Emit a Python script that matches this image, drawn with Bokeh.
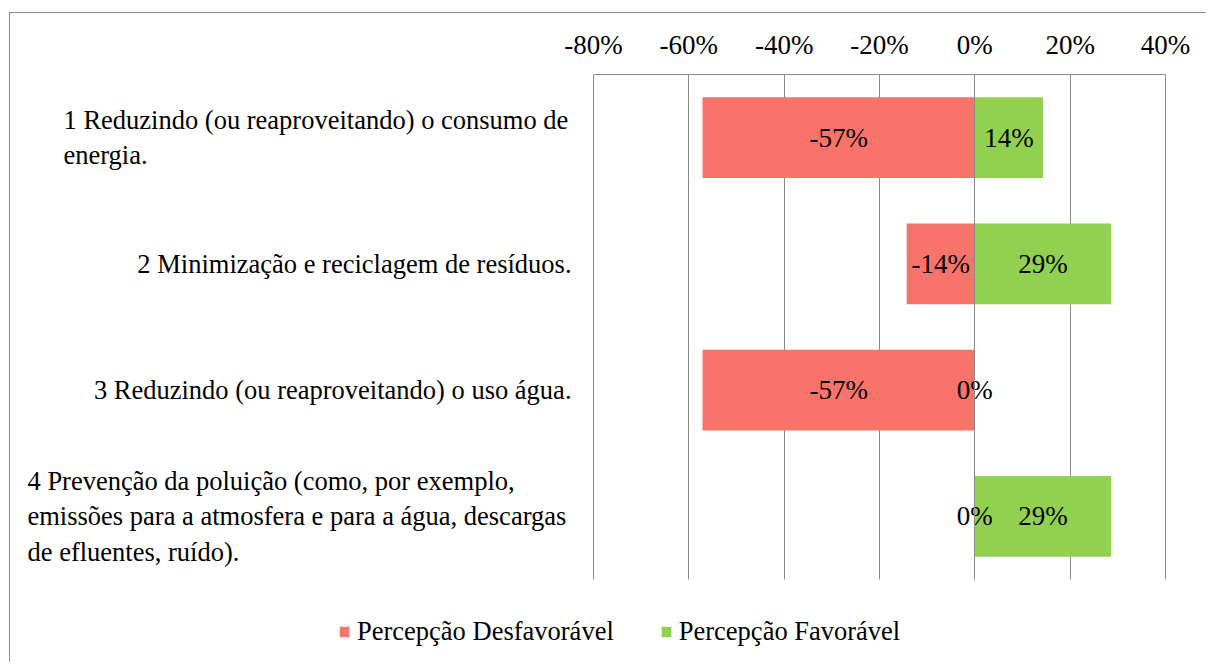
from bokeh.plotting import figure
from bokeh.models import (Range1d, FixedTicker, NumeralTickFormatter, Grid,
                          Legend, LegendItem, ColumnDataSource)
from bokeh.core.properties import value
from bokeh.embed import file_html
from bokeh.resources import INLINE

# ---- data ----
categories = [
    "1 Reduzindo (ou reaproveitando) o consumo de\nenergia.",
    "2 Minimização e reciclagem de resíduos.",
    "3 Reduzindo (ou reaproveitando) o uso água.",
    "4 Prevenção da poluição (como, por exemplo,\nemissões para a atmosfera e para a água, descargas\nde efluentes, ruído).",
]
desfavoravel = [-0.5714, -0.1429, -0.5714, 0.0]
favoravel = [0.1429, 0.2857, 0.0, 0.2857]
x_ticks = [-0.8, -0.6, -0.4, -0.2, 0.0, 0.2, 0.4]
series_names = ["Percepção Desfavorável", "Percepção Favorável"]

RED = "#F8736A"
GREEN = "#92D050"
GRID = "#8A8A8A"
FONT = "Liberation Serif"
FS_NUM = "27px"
FS_TXT = "26.5px"

n = len(categories)
ypos = [n - i - 0.5 for i in range(n)]

# ---- layout (pixels) ----
CANVAS_L, CANVAS_T = 10, 13
W, H = 1197, 650
TOP_PANEL = 61
PLOT_L, PLOT_R = 593, 1165      # pixel positions of x_ticks[0] / x_ticks[-1]
PLOT_T, PLOT_B = 74, 579        # pixel positions of top / bottom of category band
xmin_t, xmax_t = x_ticks[0], x_ticks[-1]
ppx = (PLOT_R - PLOT_L) / (xmax_t - xmin_t)
ppy = (PLOT_B - PLOT_T) / n
x_start = xmin_t - (PLOT_L - CANVAS_L) / ppx
x_end = xmax_t + (CANVAS_L + W - PLOT_R) / ppx
y_start = -(CANVAS_T + H - PLOT_B) / ppy
y_end = n

def pct(v):
    return f"{int(round(v * 100))}%"

src_d = ColumnDataSource(dict(y=ypos, right=desfavoravel, left=[0.0] * n,
                              mid=[v / 2 for v in desfavoravel],
                              lab=[pct(v) for v in desfavoravel]))
src_f = ColumnDataSource(dict(y=ypos, right=favoravel, left=[0.0] * n,
                              mid=[v / 2 for v in favoravel],
                              lab=[pct(v) for v in favoravel]))

p = figure(width=W, height=H, output_backend="svg", toolbar_location=None,
           x_range=Range1d(x_start, x_end), y_range=Range1d(y_start, y_end),
           x_axis_location="above", y_axis_location=None,
           min_border_left=0, min_border_right=0, min_border_top=TOP_PANEL,
           min_border_bottom=0)
p.styles = {"border-top": "1px solid #8C8C8C", "border-left": "1px solid #8C8C8C",
            "margin-left": "9px", "margin-top": "12px"}
p.outline_line_color = None
p.background_fill_color = "white"
p.border_fill_color = "white"

ax = p.xaxis[0]
ax.ticker = FixedTicker(ticks=x_ticks)
ax.bounds = (xmin_t, xmax_t)
ax.formatter = NumeralTickFormatter(format="0%")
ax.major_tick_line_color = None
ax.major_tick_out = 0
ax.major_tick_in = 0
ax.minor_tick_line_color = None
ax.axis_line_color = GRID
ax.major_label_text_font = FONT
ax.major_label_text_font_size = FS_NUM
ax.major_label_text_color = "black"
ax.major_label_standoff = 15

has_cb = "cross_bounds" in Grid.properties()
p.xgrid.grid_line_color = GRID
p.xgrid.ticker = FixedTicker(ticks=x_ticks)
if has_cb:
    p.xgrid.cross_bounds = (0, n)
p.ygrid.visible = False

bh = 0.64
r_d = p.hbar(y="y", left="left", right="right", height=bh, source=src_d,
             fill_color=RED, line_color=None)
r_f = p.hbar(y="y", left="left", right="right", height=bh, source=src_f,
             fill_color=GREEN, line_color=None)

# zero line drawn over the bars
zero = Grid(dimension=0, ticker=FixedTicker(ticks=[0.0]), grid_line_color=GRID,
            level="annotation")
if has_cb:
    zero.cross_bounds = (0, n)
p.add_layout(zero)

for src in (src_d, src_f):
    p.text(x="mid", y="y", text="lab", source=src, text_align="center",
           text_baseline="middle", text_font=value(FONT), text_font_size=FS_NUM,
           text_color="black")

# category labels (left of the plot area)
cat_src = ColumnDataSource(dict(
    x=[xmin_t] * n, y=ypos, text=categories,
    xoff=[-530, -22, -22, -566],
    align=["left", "right", "right", "left"]))
p.text(x="x", y="y", text="text", x_offset="xoff", text_align="align",
       text_baseline="middle", text_font=value(FONT), text_font_size=FS_TXT,
       text_color="black", text_line_height=1.18, source=cat_src)

legend = Legend(items=[LegendItem(label=series_names[0], renderers=[r_d]),
                       LegendItem(label=series_names[1], renderers=[r_f])],
                orientation="horizontal", location=(338 - CANVAS_L, 16),
                border_line_color=None, background_fill_alpha=0,
                label_text_font=FONT, label_text_font_size=FS_TXT,
                label_text_color="black",
                label_height=26, glyph_width=12, glyph_height=13,
                label_standoff=7, spacing=46, padding=0, margin=0)
p.add_layout(legend, "center")

open("out.html", "w").write(file_html(p, INLINE))
